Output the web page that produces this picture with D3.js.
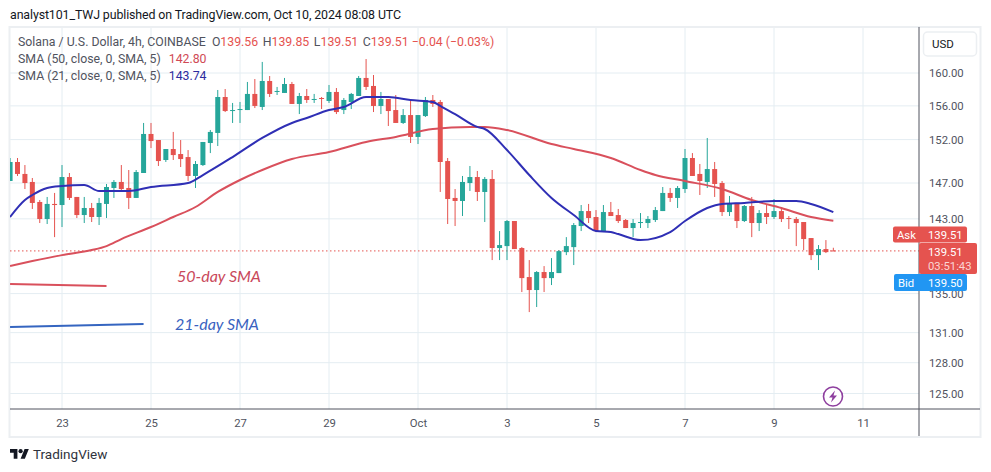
<!DOCTYPE html>
<html>
<head>
<meta charset="utf-8">
<script src="https://cdn.jsdelivr.net/npm/d3@7"></script>
<style>
  html, body { margin: 0; padding: 0; background: #fff; }
  svg { display: block; }
  text { font-family: Roboto, sans-serif; }
  .axis text { fill: #50535e; font-size: 11.3px; }
</style>
</head>
<body>
<svg id="chart" width="991" height="472"></svg>
<script>
const WIDTH = 991
const HEIGHT = 472

// first candle is Sep 21 20:00 UTC, one candle every 4 hours
const firstCandle = new Date(Date.UTC(2024, 8, 21, 20))

const opens = [147.23,149.40,148.03,147.12,144.87,142.98,144.65,144.53,147.68,145.43,143.42,144.20,143.20,144.65,146.44,147.12,146.44,145.32,148.14,152.66,151.95,149.63,150.90,150.32,149.97,147.80,149.05,151.60,152.78,157.07,155.38,155.50,155.50,157.44,155.87,159.02,157.68,157.56,158.65,156.23,157.19,156.71,156.95,156.59,157.68,155.50,156.47,157.19,159.39,158.41,155.99,156.83,155.50,153.96,154.90,152.31,154.78,156.71,156.47,149.51,145.32,144.98,147.00,147.68,145.99,147.46,139.82,140.03,142.76,139.82,136.73,135.37,137.26,136.62,137.15,139.38,139.92,142.21,143.86,143.20,141.66,143.75,143.42,142.87,141.99,142.54,142.54,142.87,143.86,145.88,145.32,146.32,149.86,148.03,147.12,148.59,147.00,143.75,144.76,142.76,144.42,142.54,143.64,143.20,143.86,143.09,142.98,142.65,140.90,139.06,139.71,139.56]
const highs = [149.86,149.86,149.05,147.57,145.09,145.43,145.88,149.05,148.14,145.43,145.43,144.76,145.32,146.89,147.34,149.05,148.48,148.48,153.96,153.96,151.95,150.90,152.90,151.95,150.78,149.51,151.72,153.13,157.92,158.04,156.35,156.47,158.90,159.26,161.37,159.63,158.29,159.39,158.90,157.56,158.04,157.44,157.07,158.53,158.16,156.95,157.56,159.63,161.73,159.75,157.68,156.83,157.31,155.62,156.59,154.90,157.07,157.31,156.71,149.86,146.32,147.80,148.94,148.37,147.68,148.48,141.66,142.87,142.76,139.92,138.53,137.36,137.89,138.74,139.60,141.00,142.54,144.53,144.65,143.97,144.53,144.87,144.09,142.98,142.98,143.64,143.31,144.31,146.55,146.44,146.66,150.90,150.43,149.17,152.19,149.40,147.23,145.54,144.76,144.53,145.43,143.97,144.53,145.20,144.09,143.31,143.20,142.65,140.90,140.14,140.68,139.85]
const lows = [147.23,147.80,146.32,144.09,142.54,142.43,141.00,142.10,145.09,143.09,142.54,142.65,142.32,143.09,145.32,146.10,144.09,145.32,148.14,151.01,148.94,149.40,149.63,148.82,147.23,146.44,148.94,150.43,151.25,155.26,153.96,153.96,155.50,155.74,155.50,157.07,157.31,157.56,156.23,155.02,156.35,156.35,155.62,156.35,155.02,155.02,155.62,157.19,157.92,155.26,155.02,153.60,153.96,153.84,151.60,151.48,154.67,155.87,145.99,142.43,142.21,143.31,146.10,144.98,142.65,138.53,138.53,138.53,139.71,135.16,133.09,133.61,135.16,135.89,137.15,139.06,138.00,141.66,142.54,141.55,141.55,143.31,142.54,141.99,141.00,141.99,141.99,142.65,143.86,144.87,144.20,145.88,147.80,145.65,146.44,145.43,143.31,143.31,141.99,142.65,141.00,141.66,142.43,142.98,142.65,141.88,140.03,139.60,138.53,137.47,139.28,139.51]
const closes = [149.40,148.03,147.00,144.76,142.98,144.65,144.53,147.68,145.32,143.42,144.20,143.20,144.76,146.55,147.12,146.32,145.32,148.25,152.66,151.83,149.51,150.90,150.20,149.74,147.80,149.17,151.72,152.90,157.07,155.38,155.50,155.62,157.44,155.99,159.02,157.44,157.80,158.65,156.23,157.19,156.71,156.83,156.83,157.68,155.26,156.71,157.44,159.39,158.29,155.99,156.83,155.38,153.96,154.90,152.31,154.90,156.71,156.23,149.40,145.20,144.98,147.12,147.68,145.99,147.46,139.82,140.14,142.76,139.71,136.62,135.37,137.26,136.62,137.26,139.49,140.03,142.32,143.86,143.09,141.66,143.75,143.31,142.76,141.99,142.54,142.65,142.98,143.97,145.88,145.32,146.44,149.86,147.80,147.23,148.59,146.89,143.75,144.65,142.76,144.42,142.54,143.64,143.20,143.86,142.98,142.98,142.54,140.79,139.06,139.71,139.38,139.51]

// the two moving averages, read at these candle numbers (0 is Sep 23 00:00)
const sma21Index = [-7,-5,-4,-2,0,3,5,9,12,17,19,23,27,31,33,36,38,41,44,47,50,51,53,56,57,60,63,66,69,72,74,75,78,82,84,87,89,92,96,99,101,104]
const sma21Values = [143.20,145.09,145.65,146.44,146.66,146.78,146.10,146.10,146.55,147.00,147.91,149.97,152.19,153.96,154.55,155.50,155.87,157.07,157.07,156.71,156.47,155.99,155.02,153.49,153.25,150.78,147.91,145.32,143.42,141.66,141.55,141.33,140.68,141.55,142.76,144.20,144.65,144.76,144.98,144.98,144.65,143.74]
const sma50Index = [-7,-4,0,4,6,8,12,15,18,21,24,27,31,36,41,45,50,55,57,60,66,69,74,78,80,84,89,93,97,101,104]
const sma50Values = [137.89,138.42,139.06,139.60,140.03,140.79,142.10,143.20,144.31,145.99,147.34,148.48,149.74,150.55,151.72,152.31,153.25,153.49,153.49,153.13,151.48,150.90,149.86,148.48,147.91,147.23,146.32,145.09,144.20,143.20,142.80]

// hand drawn key lines under the chart
const key50Index = [-7, 6]
const key50Values = [136.00, 135.80]
const key21Index = [-7, 11]
const key21Values = [131.57, 131.87]

const priceTicks = [160, 156, 152, 147, 143, 135, 131, 128, 125]
const dayTicks = [[8, 23], [8, 25], [8, 27], [8, 29], [9, 1], [9, 3], [9, 5], [9, 7], [9, 9], [9, 11]]
const dayLabels = ['23', '25', '27', '29', 'Oct', '3', '5', '7', '9', '11']

const lastPrice = 139.51
const askPrice = 139.51
const bidPrice = 139.50

const GREEN = '#26a69a'
const RED = '#e5534f'
const GRID = '#e4edf2'
const TEXT = '#50535e'

const pane = { left: 10, right: 919, top: 27, bottom: 409 }

const svg = d3.select('#chart')

const dayDates = dayTicks.map(d => new Date(Date.UTC(2024, d[0], d[1])))
const indexDate = i => d3.utcHour.offset(firstCandle, 4 * (i + 7))

const xScale = d3.scaleUtc()
    .domain([dayDates[0], dayDates[dayDates.length - 1]])
    .range([62, 863])

const yScale = d3.scaleLog()
    .domain([125, 160])
    .range([393.5, 73])

svg.append('defs').append('clipPath').attr('id', 'pane-clip')
    .append('rect')
    .attr('x', pane.left)
    .attr('y', pane.top)
    .attr('width', pane.right - pane.left)
    .attr('height', pane.bottom - pane.top)

// grid
svg.append('g')
    .selectAll('line')
    .data(priceTicks)
    .join('line')
    .attr('x1', pane.left)
    .attr('x2', pane.right)
    .attr('y1', d => yScale(d))
    .attr('y2', d => yScale(d))
    .attr('stroke', GRID)
    .attr('stroke-width', 1)

svg.append('g')
    .selectAll('line')
    .data(dayDates)
    .join('line')
    .attr('x1', d => xScale(d))
    .attr('x2', d => xScale(d))
    .attr('y1', pane.top)
    .attr('y2', pane.bottom)
    .attr('stroke', GRID)
    .attr('stroke-width', 1)

// outer frame
svg.append('rect')
    .attr('x', 9.5)
    .attr('y', 27)
    .attr('width', 971)
    .attr('height', 410)
    .attr('fill', 'none')
    .attr('stroke', '#eceff2')
    .attr('stroke-width', 2)

// last price dotted line
svg.append('line')
    .attr('x1', pane.left)
    .attr('x2', pane.right)
    .attr('y1', yScale(lastPrice))
    .attr('y2', yScale(lastPrice))
    .attr('stroke', RED)
    .attr('stroke-width', 1)
    .attr('stroke-dasharray', '1.5 2.5')

const plot = svg.append('g').attr('clip-path', 'url(#pane-clip)')

// candles
const candles = plot.append('g')
    .selectAll('g')
    .data(opens.map((o, i) => i))
    .join('g')

candles.append('line')
    .attr('x1', i => xScale(indexDate(i - 7)))
    .attr('x2', i => xScale(indexDate(i - 7)))
    .attr('y1', i => yScale(highs[i]))
    .attr('y2', i => yScale(lows[i]))
    .attr('stroke', i => closes[i] >= opens[i] ? GREEN : RED)
    .attr('stroke-width', 1)

candles.append('rect')
    .attr('x', i => xScale(indexDate(i - 7)) - 2.5)
    .attr('width', 5)
    .attr('y', i => yScale(Math.max(opens[i], closes[i])))
    .attr('height', i => Math.max(1, yScale(Math.min(opens[i], closes[i])) - yScale(Math.max(opens[i], closes[i]))))
    .attr('fill', i => closes[i] >= opens[i] ? GREEN : RED)

// moving averages
const smaLine = d3.line()
    .x(d => xScale(indexDate(d[0])))
    .y(d => yScale(d[1]))
    .curve(d3.curveMonotoneX)

plot.append('path')
    .attr('d', smaLine(d3.zip(sma50Index, sma50Values)))
    .attr('fill', 'none')
    .attr('stroke', '#d9505c')
    .attr('stroke-width', 2)

plot.append('path')
    .attr('d', smaLine(d3.zip(sma21Index, sma21Values)))
    .attr('fill', 'none')
    .attr('stroke', '#2f2fb5')
    .attr('stroke-width', 2)

// key lines and their notes
plot.append('path')
    .attr('d', smaLine(d3.zip(key50Index, key50Values)))
    .attr('fill', 'none')
    .attr('stroke', '#d9505c')
    .attr('stroke-width', 2)

plot.append('path')
    .attr('d', smaLine(d3.zip(key21Index, key21Values)))
    .attr('fill', 'none')
    .attr('stroke', '#3565c0')
    .attr('stroke-width', 2)

svg.append('text')
    .text('50-day SMA')
    .attr('x', 177)
    .attr('y', 282)
    .attr('fill', '#c9485a')
    .style('font-family', 'Lato, sans-serif')
    .style('font-style', 'italic')
    .style('font-size', '16px')

svg.append('text')
    .text('21-day SMA')
    .attr('x', 175)
    .attr('y', 330)
    .attr('fill', '#3a62c0')
    .style('font-family', 'Lato, sans-serif')
    .style('font-style', 'italic')
    .style('font-size', '16px')

// axes
svg.append('g')
    .attr('class', 'axis')
    .attr('transform', `translate(${pane.right}, 0)`)
    .call(d3.axisRight(yScale).tickValues(priceTicks).tickSize(0).tickPadding(10).tickFormat(d3.format('.2f')))
    .call(g => g.select('.domain').remove())

svg.append('g')
    .attr('class', 'axis')
    .attr('transform', `translate(0, ${pane.bottom})`)
    .call(d3.axisBottom(xScale).tickValues(dayDates).tickSize(0).tickPadding(10).tickFormat((d, i) => dayLabels[i]))
    .call(g => g.select('.domain').remove())

svg.append('line')
    .attr('x1', pane.left)
    .attr('x2', 980)
    .attr('y1', pane.bottom)
    .attr('y2', pane.bottom)
    .attr('stroke', TEXT)

svg.append('line')
    .attr('x1', pane.right)
    .attr('x2', pane.right)
    .attr('y1', pane.top)
    .attr('y2', 436)
    .attr('stroke', TEXT)

// price tags on the right
const askY = 234.5
svg.append('rect').attr('x', 893).attr('y', askY - 8).attr('width', 74).attr('height', 16).attr('rx', 2).attr('fill', RED)
svg.append('rect').attr('x', 919).attr('y', 243).attr('width', 58).attr('height', 31).attr('rx', 2).attr('fill', RED)
svg.append('rect').attr('x', 894).attr('y', 274).attr('width', 73).attr('height', 17).attr('rx', 2).attr('fill', '#2196f3')

const tagText = (label, x, y, color) => svg.append('text')
    .text(label)
    .attr('x', x)
    .attr('y', y)
    .attr('fill', color)
    .style('font-size', '11.3px')

tagText('Ask', 897, askY + 4, '#fff')
tagText(askPrice.toFixed(2), 928, askY + 4, '#fff')
tagText(lastPrice.toFixed(2), 928, 256, '#fff')
tagText('03:51:43', 928, 270, '#fbd5d4')
tagText('Bid', 898, 287, '#fff')
tagText(bidPrice.toFixed(2), 928, 287, '#fff')

// USD button
svg.append('rect')
    .attr('x', 923.5)
    .attr('y', 32)
    .attr('width', 53)
    .attr('height', 24)
    .attr('rx', 4)
    .attr('fill', '#fff')
    .attr('stroke', '#eceff2')
    .attr('stroke-width', 1.5)
svg.append('text').text('USD').attr('x', 932).attr('y', 48).attr('fill', '#131722').style('font-size', '11.5px')

// title and legend
svg.append('text')
    .text('analyst101_TWJ published on TradingView.com, Oct 10, 2024 08:08 UTC')
    .attr('x', 10)
    .attr('y', 19)
    .attr('fill', '#131722')
    .attr('textLength', 391)
    .style('font-size', '12.4px')

const legend = svg.append('text').attr('x', 18).attr('y', 46).style('font-size', '12.3px').attr('fill', TEXT)
legend.append('tspan').text('Solana / U.S. Dollar, 4h, COINBASE')
legend.append('tspan').text(' O').attr('dx', 3)
legend.append('tspan').text('139.56').attr('fill', RED)
legend.append('tspan').text(' H').attr('dx', 1.5)
legend.append('tspan').text('139.85').attr('fill', RED)
legend.append('tspan').text(' L').attr('dx', 1.5)
legend.append('tspan').text('139.51').attr('fill', RED)
legend.append('tspan').text(' C').attr('dx', 1.5)
legend.append('tspan').text('139.51 −0.04 (−0.03%)').attr('fill', RED)

const smaRow = (label, value, y, color) => {
    const row = svg.append('text').attr('x', 18).attr('y', y).style('font-size', '12.3px').attr('fill', TEXT)
    row.append('tspan').text(label)
    row.append('tspan').text(value.toFixed(2)).attr('dx', 8).attr('fill', color)
}
smaRow('SMA (50, close, 0, SMA, 5)', sma50Values[sma50Values.length - 1], 63, '#d04a55')
smaRow('SMA (21, close, 0, SMA, 5)', sma21Values[sma21Values.length - 1], 80, '#2c2c9e')

// lightning badge
const badge = svg.append('g').attr('transform', 'translate(833, 396.5)')
badge.append('circle').attr('r', 9.5).attr('fill', '#fff').attr('stroke', '#8e3f9f').attr('stroke-width', 1.6)
badge.append('path')
    .attr('d', 'M2 -6 L-4 1 L-0.5 1 L-2 6 L4 -1 L0.5 -1 Z')
    .attr('fill', '#8e3f9f')

// TradingView mark
const logo = svg.append('g').attr('transform', 'translate(10, 447) scale(0.53)')
logo.append('path').attr('d', 'M14 22H7V11H0V4h14v18zM28 22h-8l7.5-18h8L28 22z').attr('fill', '#131722')
logo.append('circle').attr('cx', 20).attr('cy', 8).attr('r', 4).attr('fill', '#131722')
svg.append('text')
    .text('TradingView')
    .attr('x', 33)
    .attr('y', 459)
    .attr('fill', '#30333d')
    .style('font-size', '13.5px')
</script>
</body>
</html>
